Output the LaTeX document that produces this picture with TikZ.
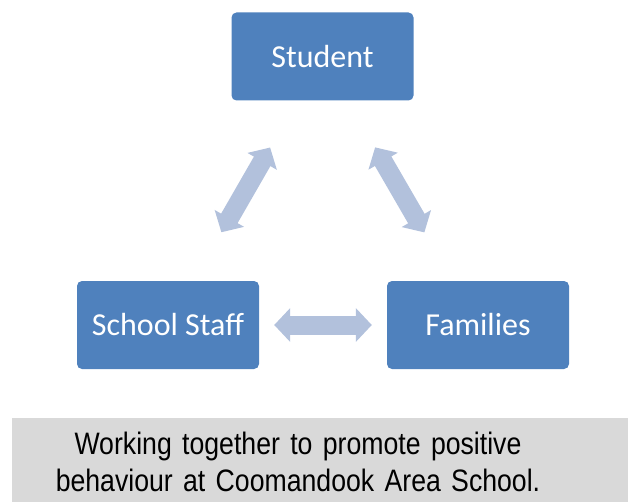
\documentclass[tikz,border=0pt]{standalone}
\usepackage{fontspec}
\setmainfont{Carlito}
\newfontfamily\notefont{Liberation Sans}[FakeStretch=0.86]
\usetikzlibrary{positioning}
\usetikzlibrary{arrows.meta}

\definecolor{boxblue}{HTML}{4F81BD}
\definecolor{linkblue}{HTML}{B2C1DC}
\definecolor{notegray}{HTML}{D9D9D9}

\tikzset{
  party/.style={rectangle, rounded corners=5pt, fill=boxblue, text=white,
    minimum width=182pt, minimum height=88pt, inner sep=0pt,
    font=\fontsize{32}{38}\selectfont},
  link/.style={draw=linkblue, line width=19pt,
    {Triangle[length=16pt, width=33pt]}-{Triangle[length=16pt, width=33pt]}}
}

\begin{document}
\begin{tikzpicture}[x=1pt,y=-1pt,node distance=2cm,on grid]
  \useasboundingbox (0,0) rectangle (628,502);

  \node[party] (stu)                                          at (322.5,56.5) {Student};
  \node[party] (staff) [below left=268.5pt and 154.5pt of stu]  {School Staff};
  \node[party] (fam)   [below right=268.5pt and 155.5pt of stu] {Families};

  \draw[link, shorten <=105pt, shorten >=107pt] (stu.center) -- (staff.center);
  \draw[link, shorten <=105pt, shorten >=107pt] (stu.center) -- (fam.center);
  \draw[link, shorten <=15pt, shorten >=15pt]   (staff.east) -- (fam.west);

  % caption strip
  \fill[notegray] (12,418) rectangle (640,510);
  \node[text width=560pt, align=center, inner sep=0pt,
        font=\notefont\fontsize{31}{37}\selectfont] (note) at (298,462)
    {Working together to promote positive\\behaviour at Coomandook Area School.};
\end{tikzpicture}
\end{document}
